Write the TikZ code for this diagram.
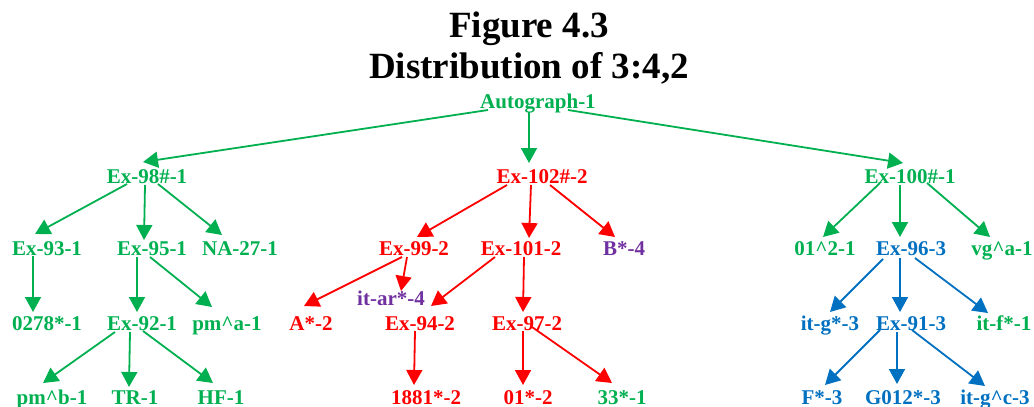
\documentclass[tikz,border=0pt]{standalone}
\usepackage{fontspec}
\setmainfont{Liberation Serif}
\usetikzlibrary{arrows.meta}
\definecolor{ogreen}{RGB}{0,176,80}
\definecolor{ored}{RGB}{255,0,0}
\definecolor{opurple}{RGB}{112,48,160}
\definecolor{oblue}{RGB}{0,112,192}
\tikzset{
  lbl/.style={anchor=base, inner sep=0pt, font=\fontsize{21}{21}\selectfont\bfseries},
  gn/.style={lbl, text=ogreen},
  rn/.style={lbl, text=ored},
  pn/.style={lbl, text=opurple},
  bn/.style={lbl, text=oblue},
  conn/.style={line width=1.8pt, -{Triangle[length=15pt,width=16pt]}},
  ga/.style={conn, draw=ogreen, fill=ogreen},
  ra/.style={conn, draw=ored, fill=ored},
  ba/.style={conn, draw=oblue, fill=oblue},
  ttl/.style={anchor=base, inner sep=0pt, font=\fontsize{37}{37}\selectfont\bfseries, text=black}
}
\begin{document}
\begin{tikzpicture}[x=1pt,y=-1pt]
\useasboundingbox (0,0) rectangle (1034,407);
% title
\node[ttl] (t1) at (529,37) {Figure 4.3};
\node[ttl] (t2) at (529,78) {Distribution of 3:4,2};
% nodes
\node[gn] (auto) at (538,108) {Autograph-1};
\node[gn] (ex98) at (147,183) {Ex-98\#-1};
\node[rn] (ex102) at (542,183) {Ex-102\#-2};
\node[gn] (ex100) at (910,183) {Ex-100\#-1};
\node[gn] (ex93) at (47,255) {Ex-93-1};
\node[gn] (ex95) at (152,255) {Ex-95-1};
\node[gn] (na27) at (240,255) {NA-27-1};
\node[rn] (ex99) at (414,255) {Ex-99-2};
\node[rn] (ex101) at (521,255) {Ex-101-2};
\node[pn] (bstar) at (624,255) {B*-4};
\node[gn] (o12) at (825,255) {01\textasciicircum 2-1};
\node[bn] (ex96) at (911,255) {Ex-96-3};
\node[gn] (vga) at (1002,255) {vg\textasciicircum a-1};
\node[pn] (itar) at (391,305) {it-ar*-4};
\node[gn] (n0278) at (47,330) {0278*-1};
\node[gn] (ex92) at (142,330) {Ex-92-1};
\node[gn] (pma) at (227,330) {pm\textasciicircum a-1};
\node[rn] (astar) at (311,330) {A*-2};
\node[rn] (ex94) at (420,330) {Ex-94-2};
\node[rn] (ex97) at (527,330) {Ex-97-2};
\node[bn] (itg) at (830,330) {it-g*-3};
\node[bn] (ex91) at (911,330) {Ex-91-3};
\node[gn] (itf) at (1004,330) {it-f*-1};
\node[gn] (pmb) at (52,404) {pm\textasciicircum b-1};
\node[gn] (tr) at (135,404) {TR-1};
\node[gn] (hf) at (221,404) {HF-1};
\node[rn] (n1881) at (426,404) {1881*-2};
\node[rn] (o1) at (528,404) {01*-2};
\node[gn] (n33) at (622,404) {33*-1};
\node[bn] (fstar) at (822,404) {F*-3};
\node[bn] (g012) at (903,404) {G012*-3};
\node[bn] (itgc) at (995,404) {it-g\textasciicircum c-3};
% connectors
\draw[ga] ([shift={(-50,2)}]auto.base) -- ([shift={(-4,-21)}]ex98.base);
\draw[ga] ([shift={(-9,4)}]auto.base) -- ([shift={(-13,-20)}]ex102.base);
\draw[ga] ([shift={(30,2)}]auto.base) -- ([shift={(-7,-20)}]ex100.base);
\draw[ga] ([shift={(-20,1)}]ex98.base) -- ([shift={(-12,-21)}]ex93.base);
\draw[ga] ([shift={(-2,2)}]ex98.base) -- ([shift={(-8,-15)}]ex95.base);
\draw[ga] ([shift={(11,1)}]ex98.base) -- ([shift={(-18,-20)}]na27.base);
\draw[ga] ([shift={(-14,1)}]ex93.base) -- ([shift={(-14,-18)}]n0278.base);
\draw[ga] ([shift={(-15,2)}]ex95.base) -- ([shift={(-5,-18)}]ex92.base);
\draw[ga] ([shift={(-2,2)}]ex95.base) -- ([shift={(-15,-23)}]pma.base);
\draw[ga] ([shift={(-27,2)}]ex92.base) -- ([shift={(-9,-21)}]pmb.base);
\draw[ga] ([shift={(-12,2)}]ex92.base) -- ([shift={(-6,-17)}]tr.base);
\draw[ga] ([shift={(1,1)}]ex92.base) -- ([shift={(-8,-21)}]hf.base);
\draw[ra] ([shift={(-35,2)}]ex102.base) -- ([shift={(3,-18)}]ex99.base);
\draw[ra] ([shift={(-11,2)}]ex102.base) -- ([shift={(8,-17)}]ex101.base);
\draw[ra] ([shift={(8,2)}]ex102.base) -- ([shift={(-9,-18)}]bstar.base);
\draw[ra] ([shift={(-12,2)}]ex99.base) -- ([shift={(-7,-24)}]astar.base);
\draw[ra] ([shift={(-7,2)}]ex99.base) -- ([shift={(10,-14)}]itar.base);
\draw[ra] ([shift={(-26,2)}]ex101.base) -- ([shift={(11,-24)}]ex94.base);
\draw[ra] ([shift={(3,2)}]ex101.base) -- ([shift={(-4,-18)}]ex97.base);
\draw[ra] ([shift={(-5,1)}]ex94.base) -- ([shift={(-12,-19)}]n1881.base);
\draw[ra] ([shift={(-4,1)}]ex97.base) -- ([shift={(-5,-19)}]o1.base);
\draw[ra] ([shift={(5,-3)}]ex97.base) -- ([shift={(-10,-21)}]n33.base);
\draw[ga] ([shift={(-30,0)}]ex100.base) -- ([shift={(-2,-18)}]o12.base);
\draw[ga] ([shift={(-10,2)}]ex100.base) -- ([shift={(-11,-18)}]ex96.base);
\draw[ga] ([shift={(17,0)}]ex100.base) -- ([shift={(-12,-18)}]vga.base);
\draw[ba] ([shift={(-28,4)}]ex96.base) -- ([shift={(0,-18)}]itg.base);
\draw[ba] ([shift={(-11,3)}]ex96.base) -- ([shift={(-11,-18)}]ex91.base);
\draw[ba] ([shift={(4,3)}]ex96.base) -- ([shift={(-16,-17)}]itf.base);
\draw[ba] ([shift={(-31,0)}]ex91.base) -- ([shift={(3,-19)}]fstar.base);
\draw[ba] ([shift={(-14,2)}]ex91.base) -- ([shift={(-6,-20)}]g012.base);
\draw[ba] ([shift={(1,0)}]ex91.base) -- ([shift={(-10,-18)}]itgc.base);
\end{tikzpicture}
\end{document}
